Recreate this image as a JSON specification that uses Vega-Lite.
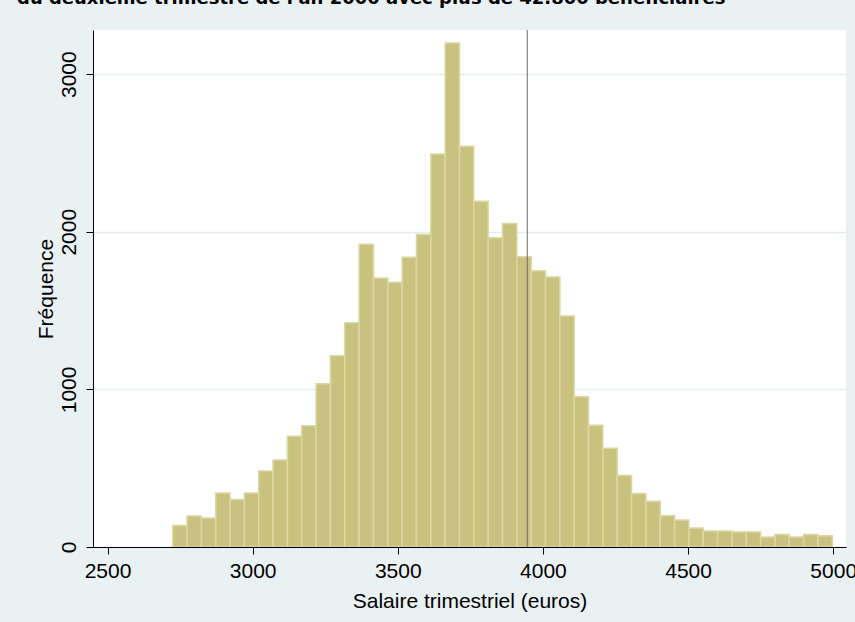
{
  "$schema": "https://vega.github.io/schema/vega-lite/v6.json",
  "width": 753,
  "height": 517,
  "autosize": {"type": "none"},
  "padding": {"left": 93, "top": 30, "right": 9, "bottom": 75},
  "background": "#eaf1f3",
  "title": {
    "text": "du deuxième trimestre de l'an 2000 avec plus de 42.800 bénéficiaires",
    "anchor": "start",
    "frame": "group",
    "font": "DejaVu Sans",
    "fontSize": 18,
    "fontWeight": "bold",
    "color": "#000000",
    "baseline": "alphabetic",
    "offset": 8,
    "dx": -76
  },
  "config": {
    "view": {"fill": "#ffffff", "stroke": null},
    "axis": {
      "labelFont": "Liberation Sans",
      "titleFont": "Liberation Sans",
      "labelFontSize": 21,
      "titleFontSize": 21,
      "titleFontWeight": "normal",
      "labelColor": "#000000",
      "titleColor": "#000000",
      "domainColor": "#000000",
      "tickColor": "#000000",
      "domainWidth": 1,
      "tickWidth": 1,
      "tickSize": 7,
      "labelFlush": false,
      "labelOverlap": false,
      "format": "d"
    }
  },
  "layer": [
    {
      "data": {
        "values": [
          {"lo": 2724.5, "hi": 2773.9, "freq": 136},
          {"lo": 2773.9, "hi": 2823.3, "freq": 197},
          {"lo": 2823.3, "hi": 2872.7, "freq": 184},
          {"lo": 2872.7, "hi": 2922.1, "freq": 342},
          {"lo": 2922.1, "hi": 2971.5, "freq": 301},
          {"lo": 2971.5, "hi": 3020.9, "freq": 342},
          {"lo": 3020.9, "hi": 3070.3, "freq": 482},
          {"lo": 3070.3, "hi": 3119.7, "freq": 552},
          {"lo": 3119.7, "hi": 3169.1, "freq": 702},
          {"lo": 3169.1, "hi": 3218.5, "freq": 770},
          {"lo": 3218.5, "hi": 3267.9, "freq": 1036},
          {"lo": 3267.9, "hi": 3317.3, "freq": 1214},
          {"lo": 3317.3, "hi": 3366.7, "freq": 1423},
          {"lo": 3366.7, "hi": 3416.1, "freq": 1921},
          {"lo": 3416.1, "hi": 3465.5, "freq": 1706},
          {"lo": 3465.5, "hi": 3514.9, "freq": 1679},
          {"lo": 3514.9, "hi": 3564.3, "freq": 1839},
          {"lo": 3564.3, "hi": 3613.7, "freq": 1983},
          {"lo": 3613.7, "hi": 3663.1, "freq": 2493},
          {"lo": 3663.1, "hi": 3712.5, "freq": 3197},
          {"lo": 3712.5, "hi": 3761.9, "freq": 2542},
          {"lo": 3761.9, "hi": 3811.3, "freq": 2193},
          {"lo": 3811.3, "hi": 3860.7, "freq": 1962},
          {"lo": 3860.7, "hi": 3910.1, "freq": 2053},
          {"lo": 3910.1, "hi": 3959.5, "freq": 1841},
          {"lo": 3959.5, "hi": 4008.9, "freq": 1753},
          {"lo": 4008.9, "hi": 4058.3, "freq": 1713},
          {"lo": 4058.3, "hi": 4107.7, "freq": 1465},
          {"lo": 4107.7, "hi": 4157.1, "freq": 954},
          {"lo": 4157.1, "hi": 4206.5, "freq": 772},
          {"lo": 4206.5, "hi": 4255.9, "freq": 626},
          {"lo": 4255.9, "hi": 4305.3, "freq": 453},
          {"lo": 4305.3, "hi": 4354.7, "freq": 339},
          {"lo": 4354.7, "hi": 4404.1, "freq": 290},
          {"lo": 4404.1, "hi": 4453.5, "freq": 199},
          {"lo": 4453.5, "hi": 4502.9, "freq": 171},
          {"lo": 4502.9, "hi": 4552.3, "freq": 120},
          {"lo": 4552.3, "hi": 4601.7, "freq": 101},
          {"lo": 4601.7, "hi": 4651.1, "freq": 101},
          {"lo": 4651.1, "hi": 4700.5, "freq": 95},
          {"lo": 4700.5, "hi": 4749.9, "freq": 95},
          {"lo": 4749.9, "hi": 4799.3, "freq": 63},
          {"lo": 4799.3, "hi": 4848.7, "freq": 80},
          {"lo": 4848.7, "hi": 4898.1, "freq": 63},
          {"lo": 4898.1, "hi": 4947.5, "freq": 80},
          {"lo": 4947.5, "hi": 4996.9, "freq": 72}
        ]
      },
      "mark": {"type": "rect", "fill": "#c9c27f", "stroke": "#dcd7a5", "strokeWidth": 1.5},
      "encoding": {
        "x": {
          "field": "lo",
          "type": "quantitative",
          "scale": {"domain": [2450, 5044], "nice": false, "zero": false},
          "axis": {
            "title": "Salaire trimestriel (euros)",
            "values": [2500, 3000, 3500, 4000, 4500, 5000],
            "grid": false,
            "labelPadding": 6,
            "titlePadding": 9,
            "zindex": 1
          }
        },
        "x2": {"field": "hi"},
        "y": {
          "field": "freq",
          "type": "quantitative",
          "scale": {"domain": [0, 3280], "nice": false},
          "axis": {
            "title": "Fréquence",
            "values": [0, 1000, 2000, 3000],
            "grid": true,
            "gridColor": "#e3ecef",
            "gridWidth": 1.5,
            "labelAngle": -90,
            "labelAlign": "center",
            "labelBaseline": "alphabetic",
            "labelPadding": 11,
            "titlePadding": 2
          }
        },
        "y2": {"datum": 0}
      }
    },
    {
      "data": {"values": [{"moyenne": 3946}]},
      "mark": {"type": "rule", "color": "#6e6e6e", "strokeWidth": 1},
      "encoding": {
        "x": {"field": "moyenne", "type": "quantitative", "title": "Salaire trimestriel (euros)"}
      }
    }
  ]
}
